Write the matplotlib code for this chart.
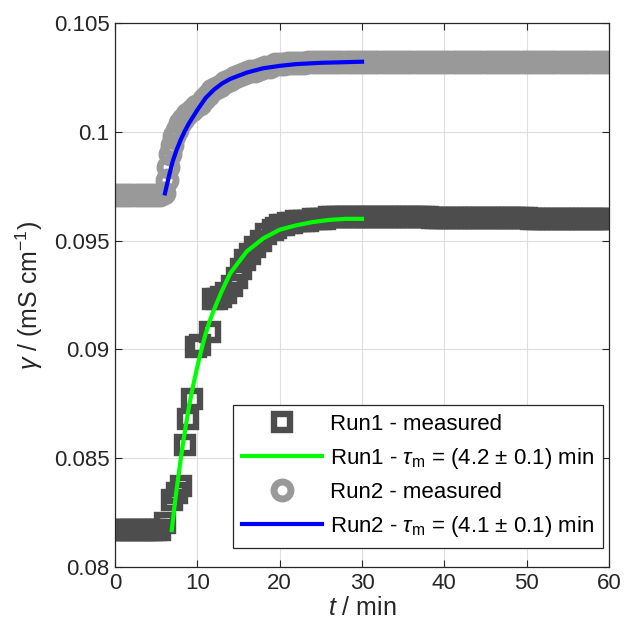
import matplotlib
matplotlib.use('Agg')
import matplotlib.pyplot as plt

# Run1 measured (squares)
t_run1 = [0, 0.5, 1, 1.5, 2, 2.5, 3, 3.5, 4, 4.5, 5, 5.5,
          6.1, 6.9, 7.5, 8.0, 8.5, 8.9, 9.4, 9.9, 10.3, 11.5, 11.9, 12.4, 12.9,
          13.5, 14.2, 14.8, 15.3, 15.8, 16.4, 17.0, 17.7, 18.4, 19.2, 19.6,
          20, 20.5, 21, 21.5, 22, 22.5, 23, 23.5, 24, 24.5, 25, 25.5, 26, 26.5,
          27, 27.5, 28, 28.5, 29, 29.5, 30, 30.5, 31, 31.5, 32, 32.5, 33, 33.5,
          34, 34.5, 35, 35.5, 36, 36.5, 37, 37.5, 38, 38.5, 39, 39.5, 40, 40.5,
          41, 41.5, 42, 42.5, 43, 43.5, 44, 44.5, 45, 45.5, 46, 46.5, 47, 47.5,
          48, 48.5, 49, 49.5, 50, 50.5, 51, 51.5, 52, 52.5, 53, 53.5, 54, 54.5,
          55, 55.5, 56, 56.5, 57, 57.5, 58, 58.5, 59, 59.5, 60]
g_run1 = [0.0817, 0.0817, 0.0817, 0.0817, 0.0817, 0.0817, 0.0817, 0.0817, 0.0817, 0.0817, 0.0817, 0.0817,
          0.0820, 0.0831, 0.0834, 0.0837, 0.0856, 0.0868, 0.0877, 0.0901, 0.0902, 0.0908, 0.0923, 0.0923, 0.0924,
          0.0926, 0.0929, 0.0933, 0.0937, 0.0941, 0.0944, 0.0947, 0.0950, 0.0953, 0.0955, 0.0956,
          0.0957, 0.0957, 0.0958, 0.0958, 0.0959, 0.0959, 0.0959, 0.0959, 0.0960, 0.0960, 0.0960, 0.0960, 0.0961, 0.0961,
          0.0961, 0.0961, 0.0961, 0.0961, 0.0961, 0.0961, 0.0961, 0.0961, 0.0961, 0.0961, 0.0961, 0.0961, 0.0961, 0.0961,
          0.0961, 0.0961, 0.0961, 0.0961, 0.0961, 0.0961, 0.0961, 0.0961, 0.0961, 0.09605, 0.09605, 0.09605, 0.09605, 0.09605,
          0.09605, 0.09605, 0.09605, 0.09605, 0.09605, 0.09605, 0.09605, 0.09605, 0.09605, 0.09605, 0.09605, 0.09605, 0.09605, 0.09605,
          0.09605, 0.09605, 0.09605, 0.09605, 0.09605, 0.0960, 0.0960, 0.0960, 0.0960, 0.0960, 0.0960, 0.0960, 0.0960, 0.0960,
          0.0960, 0.0960, 0.0960, 0.0960, 0.0960, 0.0960, 0.0960, 0.0960, 0.0960, 0.0960, 0.0960]

# Run1 fit
t_fit1 = [6.9, 7.2, 7.5, 8, 8.5, 9, 9.5, 10, 10.5, 11, 11.5, 12, 13, 14, 15, 16, 18, 20, 22, 24, 26, 28, 30]
g_fit1 = [0.0817, 0.0827, 0.0836, 0.0850, 0.08626, 0.0874, 0.08835, 0.0892, 0.0900, 0.0907, 0.0913, 0.0918,
          0.0927, 0.0935, 0.0940, 0.0945, 0.0951, 0.0955, 0.0957, 0.09585, 0.09595, 0.0960, 0.0960]

# Run2 measured (circles)
t_run2 = [0, 0.5, 1, 1.5, 2, 2.5, 3, 3.5, 4, 4.5, 5, 5.5,
          6.0, 6.3, 6.5, 6.7, 6.9, 7.2, 7.5, 7.9, 8.3, 8.8, 9.3, 9.8, 10.3, 10.8,
          11.3, 11.8, 12.3, 12.8, 13.4, 14.0, 14.6, 15.2, 15.8, 16.4, 17.0, 17.6,
          18.2, 18.8, 19.4,
          20, 20.5, 21, 21.5, 22, 22.5, 23, 23.5, 24, 24.5, 25, 25.5, 26, 26.5,
          27, 27.5, 28, 28.5, 29, 29.5, 30, 30.5, 31, 31.5, 32, 32.5, 33, 33.5,
          34, 34.5, 35, 35.5, 36, 36.5, 37, 37.5, 38, 38.5, 39, 39.5, 40, 40.5,
          41, 41.5, 42, 42.5, 43, 43.5, 44, 44.5, 45, 45.5, 46, 46.5, 47, 47.5,
          48, 48.5, 49, 49.5, 50, 50.5, 51, 51.5, 52, 52.5, 53, 53.5, 54, 54.5,
          55, 55.5, 56, 56.5, 57, 57.5, 58, 58.5, 59, 59.5, 60]
g_run2 = [0.0971, 0.0971, 0.0971, 0.0971, 0.0971, 0.0971, 0.0971, 0.0971, 0.0971, 0.0971, 0.0971, 0.0971,
          0.0972, 0.0978, 0.0984, 0.0990, 0.0994, 0.0998, 0.1001, 0.1004, 0.1006, 0.1008, 0.1010, 0.1012, 0.1013, 0.1015,
          0.1017, 0.1019, 0.1020, 0.1021, 0.1023, 0.1024, 0.1025, 0.1026, 0.1027, 0.1028, 0.1028, 0.1029,
          0.1030, 0.1030, 0.1031,
          0.1031, 0.1031, 0.10315, 0.10315, 0.10315, 0.10315, 0.10315, 0.1032, 0.1032, 0.1032, 0.1032, 0.1032, 0.1032, 0.1032,
          0.1032, 0.1032, 0.1032, 0.1032, 0.1032, 0.1032, 0.1032, 0.1032, 0.1032, 0.1032, 0.1032, 0.1032, 0.1032, 0.1032,
          0.1032, 0.1032, 0.1032, 0.1032, 0.1032, 0.1032, 0.1032, 0.1032, 0.1032, 0.1032, 0.1032, 0.1032, 0.1032, 0.1032,
          0.1032, 0.1032, 0.1032, 0.1032, 0.1032, 0.1032, 0.1032, 0.1032, 0.1032, 0.1032, 0.1032, 0.1032, 0.1032, 0.1032,
          0.1032, 0.1032, 0.1032, 0.1032, 0.1032, 0.1032, 0.1032, 0.1032, 0.1032, 0.1032, 0.1032, 0.1032, 0.1032, 0.1032,
          0.1032, 0.1032, 0.1032, 0.1032, 0.1032, 0.1032, 0.1032, 0.1032, 0.1032, 0.1032, 0.1032]

# Run2 fit
t_fit2 = [6.07, 6.3, 6.5, 7, 7.5, 8, 8.5, 9, 10, 11, 12, 13, 14, 16, 18, 20, 22, 25, 28, 30]
g_fit2 = [0.09717, 0.09755, 0.09787, 0.09863, 0.09918, 0.09965, 0.10005, 0.10040, 0.10100, 0.10155,
          0.10193, 0.10222, 0.10243, 0.10272, 0.10292, 0.10303, 0.10311, 0.10317, 0.1032, 0.10322]

x_ticks = [0, 10, 20, 30, 40, 50, 60]
y_ticks = [0.08, 0.085, 0.09, 0.095, 0.1, 0.105]
y_ticklabels = ['0.08', '0.085', '0.09', '0.095', '0.1', '0.105']

labels = ['Run1 - measured',
          r'Run1 - $\tau_\mathrm{m}$ = (4.2 $\pm$ 0.1) min',
          'Run2 - measured',
          r'Run2 - $\tau_\mathrm{m}$ = (4.1 $\pm$ 0.1) min']

txt = '#262626'
plt.rcParams['font.family'] = ['Liberation Sans', 'DejaVu Sans']
plt.rcParams['mathtext.fontset'] = 'custom'
plt.rcParams['mathtext.rm'] = 'Liberation Sans'
plt.rcParams['mathtext.it'] = 'Liberation Sans:italic'
plt.rcParams['mathtext.bf'] = 'Liberation Sans:bold'

fig = plt.figure(figsize=(6.3, 6.3), dpi=100)
ax = fig.add_axes([0.1825, 0.1, 0.7842, 0.8635])

ax.plot(t_run1, g_run1, ls='none', marker='s', ms=11, mew=4.6,
        mfc='none', mec='#4d4d4d', label=labels[0])
ax.plot(t_fit1, g_fit1, color='#00ff00', lw=3, label=labels[1])
ax.plot(t_run2, g_run2, ls='none', marker='o', ms=12.2, mew=5,
        mfc='none', mec='#999999', label=labels[2])
ax.plot(t_fit2, g_fit2, color='#0000ff', lw=3, label=labels[3])

ax.set_xlim(0, 60)
ax.set_ylim(0.08, 0.105)
ax.set_xticks(x_ticks)
ax.set_yticks(y_ticks)
ax.set_yticklabels(y_ticklabels)
ax.grid(True, color='#dedede', lw=0.8)
ax.set_axisbelow(True)
ax.tick_params(direction='in', length=5, width=0.8, top=True, right=True,
               labelsize=16, colors=txt, pad=4)
for s in ax.spines.values():
    s.set_color(txt)
    s.set_linewidth(0.9)

ax.set_xlabel('$t$ / min', fontsize=18, color=txt, labelpad=2)
ax.set_ylabel(r'$\gamma$ / (mS cm$^{-1}$)', fontsize=18, color=txt, labelpad=6)

leg = ax.legend(loc='lower right', bbox_to_anchor=(0.988, 0.035), borderaxespad=0,
                fontsize=16, numpoints=1, handlelength=3.6, handletextpad=0.37,
                labelspacing=0.5, fancybox=False, framealpha=1, borderpad=0.4)
leg.get_frame().set_edgecolor(txt)
leg.get_frame().set_linewidth(0.9)
for t in leg.get_texts():
    t.set_color('black')

fig.savefig('out.png', dpi=100)
